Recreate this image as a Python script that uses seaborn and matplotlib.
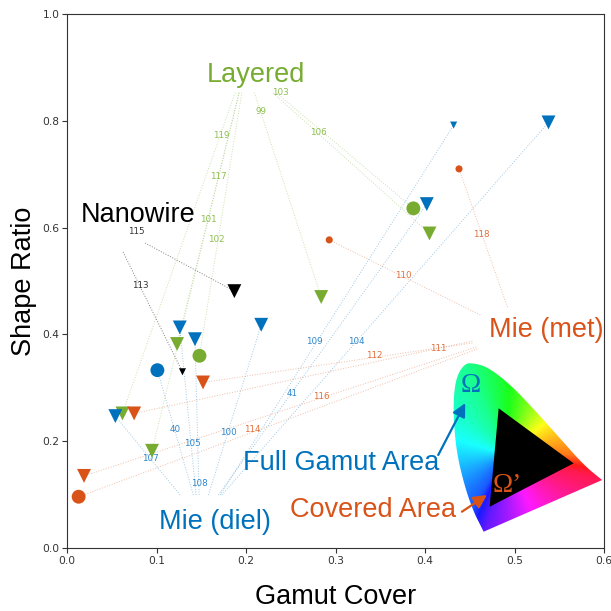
import numpy as np
import pandas as pd
import matplotlib
matplotlib.use("Agg")
import matplotlib.pyplot as plt
import seaborn as sns
from matplotlib.colors import hsv_to_rgb
from matplotlib.patches import Polygon, FancyArrowPatch

# ---------------------------------------------------------------- data
groups = ["Layered", "Nanowire", "Mie (diel)", "Mie (met)"]

ref_ids = [119, 117, 101, 102, 99, 103, 106,
           115, 113,
           107, 40, 105, 108, 100, 41, 109, 104,
           111, 112, 116, 114, 110, 118]
group_of = (["Layered"] * 7 + ["Nanowire"] * 2 +
            ["Mie (diel)"] * 8 + ["Mie (met)"] * 6)
gamut_cover = [0.062, 0.123, 0.095, 0.148, 0.284, 0.405, 0.387,
               0.187, 0.129,
               0.054, 0.101, 0.126, 0.143, 0.217, 0.402, 0.432, 0.538,
               0.075, 0.152, 0.019, 0.013, 0.293, 0.438]
shape_ratio = [0.252, 0.382, 0.182, 0.360, 0.470, 0.589, 0.636,
               0.481, 0.330,
               0.247, 0.333, 0.413, 0.391, 0.418, 0.644, 0.792, 0.797,
               0.252, 0.310, 0.135, 0.096, 0.577, 0.710]
geometry = ["tri", "tri", "tri", "dot", "tri", "tri", "dot",
            "tri", "tri",
            "tri", "dot", "tri", "tri", "tri", "tri", "tri", "tri",
            "tri", "tri", "tri", "dot", "dot", "dot"]
tier = (["major"] * 7 + ["major", "minor"] +
        ["major"] * 6 + ["minor", "major"] +
        ["major"] * 4 + ["minor", "minor"])

# ---------------------------------------------------------------- layout
palette = {"Layered": "#77AC30", "Nanowire": "#000000",
           "Mie (diel)": "#0072BD", "Mie (met)": "#D95319"}
number_colors = {"Layered": "#8CBF4E", "Nanowire": "#333333",
                 "Mie (diel)": "#2E86CC", "Mie (met)": "#E0703E"}

# where each leader line starts (near its group caption)
leader_start = {
    119: (0.1879, 0.8526), 117: (0.1923, 0.8526), 101: (0.1923, 0.8526),
    102: (0.1953, 0.8526), 99: (0.2094, 0.8526), 103: (0.2307, 0.8515),
    106: (0.2345, 0.8515),
    115: (0.0872, 0.5712), 113: (0.0626, 0.5543),
    107: (0.1264, 0.0993), 40: (0.1412, 0.0993), 105: (0.1442, 0.0993),
    108: (0.1476, 0.0993), 100: (0.1580, 0.0993), 41: (0.1692, 0.0993),
    109: (0.1711, 0.0993), 104: (0.1730, 0.0993),
    111: (0.4529, 0.3876), 112: (0.4529, 0.3839), 116: (0.4573, 0.3764),
    114: (0.4585, 0.3727), 110: (0.4618, 0.4363), 118: (0.4920, 0.4513),
}
# where each reference number sits along its leader
number_xy = {
    119: (0.1722, 0.7734), 117: (0.1688, 0.6966), 101: (0.1577, 0.6161),
    102: (0.1666, 0.5768), 99: (0.2169, 0.8165), 103: (0.2382, 0.8521),
    106: (0.2807, 0.7790),
    115: (0.0772, 0.5925), 113: (0.0816, 0.4925),
    107: (0.0928, 0.1685), 40: (0.1208, 0.2210), 105: (0.1398, 0.1966),
    100: (0.1800, 0.2172), 108: (0.1476, 0.1217), 41: (0.2516, 0.2884),
    109: (0.2762, 0.3858), 104: (0.3232, 0.3876),
    118: (0.4629, 0.5880), 110: (0.3757, 0.5112), 112: (0.3433, 0.3614),
    111: (0.4148, 0.3727), 116: (0.2840, 0.2828), 114: (0.2069, 0.2210),
}
caption_xy = {"Layered": (0.2113, 0.8732), "Nanowire": (0.0794, 0.6100),
              "Mie (diel)": (0.1653, 0.0356), "Mie (met)": (0.5351, 0.3957)}

df = pd.DataFrame({"ref": ref_ids, "group": group_of, "cover": gamut_cover,
                   "ratio": shape_ratio, "geometry": geometry, "tier": tier})

# ---------------------------------------------------------------- figure
sns.set_theme(style="ticks")
plt.rcParams["font.family"] = ["DejaVu Sans"]
fig = plt.figure(figsize=(6.11, 6.11), dpi=100)
ax = fig.add_axes([67 / 611, 1 - 548 / 611, 537 / 611, 534 / 611])

# leader lines and reference numbers
for r, g, x, y in zip(df["ref"], df["group"], df["cover"], df["ratio"]):
    sx, sy = leader_start[r]
    ax.plot([sx, x], [sy, y], ls=":", lw=0.7, color=palette[g],
            alpha=0.38 if g != "Nanowire" else 0.5, zorder=2)
    tx, ty = number_xy[r]
    ax.text(tx, ty, str(r), ha="center", va="center", fontsize=6.3,
            color=number_colors[g], zorder=3)

sns.scatterplot(data=df, x="cover", y="ratio", hue="group", palette=palette,
                style="geometry", markers={"tri": "v", "dot": "o"},
                size="tier", sizes={"major": 100, "minor": 26},
                linewidth=0, legend=False, ax=ax, zorder=4)

cap_font = dict(family=["Liberation Sans", "DejaVu Sans"], fontsize=19.5)
for g, (cx, cy) in caption_xy.items():
    ax.text(cx, cy, g, ha="center", va="baseline", color=palette[g],
            zorder=5, **cap_font)

# chromaticity inset: horseshoe gamut with the covered triangle
outline = np.array([
    (0.4655, 0.0305), (0.4618, 0.0431), (0.4543, 0.0680), (0.4450, 0.1118),
    (0.4358, 0.1742), (0.4320, 0.2365), (0.4320, 0.2865), (0.4358, 0.3240),
    (0.4450, 0.3459), (0.4543, 0.3459), (0.4693, 0.3395), (0.4917, 0.3114),
    (0.5140, 0.2740), (0.5476, 0.2116), (0.5773, 0.1554), (0.5979, 0.1273)])


def chaikin(pts, n=3):
    for _ in range(n):
        q = 0.75 * pts[:-1] + 0.25 * pts[1:]
        r = 0.25 * pts[:-1] + 0.75 * pts[1:]
        mid = np.empty((2 * len(q), 2))
        mid[0::2] = q
        mid[1::2] = r
        pts = np.vstack([pts[:1], mid, pts[-1:]])
    return pts


shape = chaikin(outline)
gx = np.linspace(0.42, 0.61, 220)
gy = np.linspace(0.02, 0.36, 260)
X, Y = np.meshgrid(gx, gy)
ang = np.degrees(np.arctan2((Y - 0.1742) * 534, (X - 0.4898) * 894.3)) % 360
knots_a = [0, 37, 86, 114, 163, 238, 255, 294, 346, 360]
knots_h = [0.07, 0.16, 0.33, 0.42, 0.50, 0.62, 0.72, 0.83, 0.96, 1.07]
hue = np.interp(ang, knots_a, knots_h) % 1.0
hsv = np.dstack([hue, np.full_like(hue, 0.9), np.ones_like(hue)])
rgb = hsv_to_rgb(hsv)
img = ax.imshow(rgb, extent=(gx[0], gx[-1], gy[0], gy[-1]), origin="lower",
                aspect="auto", interpolation="bilinear", zorder=1)
clip = Polygon(shape, closed=True, transform=ax.transData,
               facecolor="none", edgecolor="none")
ax.add_patch(clip)
img.set_clip_path(clip)
ax.add_patch(Polygon([(0.4823, 0.2616), (0.5661, 0.1586), (0.4722, 0.0773)],
                     closed=True, facecolor="black", edgecolor="none",
                     zorder=2))

omega_font = dict(family=["Liberation Serif", "DejaVu Serif"], fontsize=19.5)
ax.text(0.4506, 0.2912, "Ω", ha="center", va="baseline", color="#0072BD",
        zorder=6, **omega_font)
ax.text(0.4917, 0.1054, "Ω’", ha="center", va="baseline", color="#D95319",
        zorder=6, **omega_font)
ax.text(0.3069, 0.1461, "Full Gamut Area", ha="center", va="baseline",
        color="#0072BD", zorder=5, **cap_font)
ax.text(0.3416, 0.0586, "Covered Area", ha="center", va="baseline",
        color="#D95319", zorder=5, **cap_font)
ax.add_patch(FancyArrowPatch((0.4148, 0.1742), (0.4450, 0.2715),
                             arrowstyle="-|>", mutation_scale=20, lw=1.6,
                             color="#0072BD", zorder=6, shrinkA=0, shrinkB=0))
ax.add_patch(FancyArrowPatch((0.4413, 0.0680), (0.4693, 0.0993),
                             arrowstyle="-|>", mutation_scale=20, lw=1.6,
                             color="#D95319", zorder=6, shrinkA=0, shrinkB=0))

# axes
ax.set_xlim(0, 0.6)
ax.set_ylim(0, 1.0)
ax.set_xticks(np.arange(0, 0.61, 0.1))
ax.set_yticks(np.arange(0, 1.01, 0.2))
ax.xaxis.set_major_formatter(plt.FormatStrFormatter("%.1f"))
ax.yaxis.set_major_formatter(plt.FormatStrFormatter("%.1f"))
ax.tick_params(direction="out", length=3.5, width=0.8, labelsize=7.7,
               labelcolor="#333333", color="#333333", pad=2)
for s in ax.spines.values():
    s.set_color("#333333")
    s.set_linewidth(0.8)
ax.set_xlabel("Gamut Cover", labelpad=13.5, color="black", **cap_font)
ax.set_ylabel("Shape Ratio", labelpad=4, color="black", **cap_font)

fig.savefig("out.png", dpi=100)
